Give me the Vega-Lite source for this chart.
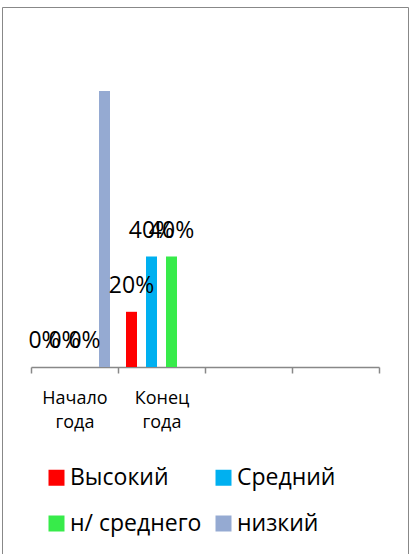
{
  "$schema": "https://vega.github.io/schema/vega-lite/v6.json",
  "width": 406,
  "height": 547,
  "autosize": {"type": "none"},
  "padding": {"left": 2, "top": 7, "right": 4, "bottom": 0},
  "background": "white",
  "config": {
    "view": {"stroke": "#888888", "strokeWidth": 1},
    "font": "Open Sans"
  },
  "data": {
    "values": [
      {"period": "Начало года", "level": "Высокий", "share": 0},
      {"period": "Начало года", "level": "Средний", "share": 0},
      {"period": "Начало года", "level": "н/ среднего", "share": 0},
      {"period": "Начало года", "level": "низкий", "share": 1.0},
      {"period": "Конец года", "level": "Высокий", "share": 0.2},
      {"period": "Конец года", "level": "Средний", "share": 0.4},
      {"period": "Конец года", "level": "н/ среднего", "share": 0.4},
      {"period": "Конец года", "level": "низкий", "share": 0}
    ]
  },
  "encoding": {
    "x": {
      "field": "period",
      "type": "nominal",
      "sort": null,
      "scale": {"domain": ["Начало года", "Конец года", "3", "4"], "range": [29, 377], "paddingInner": 0, "paddingOuter": 0},
      "axis": {
        "title": null,
        "grid": false,
        "domainColor": "#888888",
        "domainWidth": 1.5,
        "tickColor": "#888888",
        "tickWidth": 1.5,
        "tickSize": 6,
        "tickBand": "extent",
        "offset": -187,
        "labelFont": "Open Sans",
        "labelFontSize": 18,
        "labelColor": "black",
        "labelAngle": 0,
        "labelBaseline": "alphabetic",
        "labelPadding": 30,
        "labelLineHeight": 24,
        "labelExpr": "(datum.value == 'Начало года' || datum.value == 'Конец года') ? split(datum.value, ' ') : ''"
      }
    },
    "xOffset": {
      "field": "level",
      "type": "nominal",
      "scale": {"domain": ["Высокий", "Средний", "н/ среднего", "низкий"], "paddingInner": 0.45, "paddingOuter": 0.4}
    },
    "y": {
      "field": "share",
      "type": "quantitative",
      "scale": {"domain": [-0.6775, 1.3043], "nice": false, "zero": false},
      "axis": null
    }
  },
  "layer": [
    {
      "mark": {"type": "bar"},
      "encoding": {
        "y2": {"datum": 0},
        "color": {
          "field": "level",
          "type": "nominal",
          "scale": {"domain": ["Высокий", "Средний", "н/ среднего", "низкий"], "range": ["#FF0000", "#00B0F0", "#37EB4A", "#95AAD2"]},
          "legend": {
            "title": null,
            "orient": "none",
            "legendX": 43,
            "legendY": 459,
            "direction": "horizontal",
            "columns": 2,
            "symbolType": "square",
            "symbolSize": 256,
            "symbolStrokeWidth": 0,
            "symbolOpacity": 1,
            "labelFont": "Open Sans",
            "labelFontSize": 23,
            "labelColor": "black",
            "labelOffset": 2,
            "labelLimit": 300,
            "columnPadding": 10,
            "rowPadding": 22,
            "padding": 0
          }
        }
      }
    },
    {
      "transform": [{"filter": "datum.level != 'низкий'"}],
      "mark": {"type": "text", "baseline": "alphabetic", "dy": -19, "fontSize": 23, "font": "Open Sans", "color": "black"},
      "encoding": {
        "text": {"field": "share", "type": "quantitative", "format": ".0%"}
      }
    }
  ]
}
